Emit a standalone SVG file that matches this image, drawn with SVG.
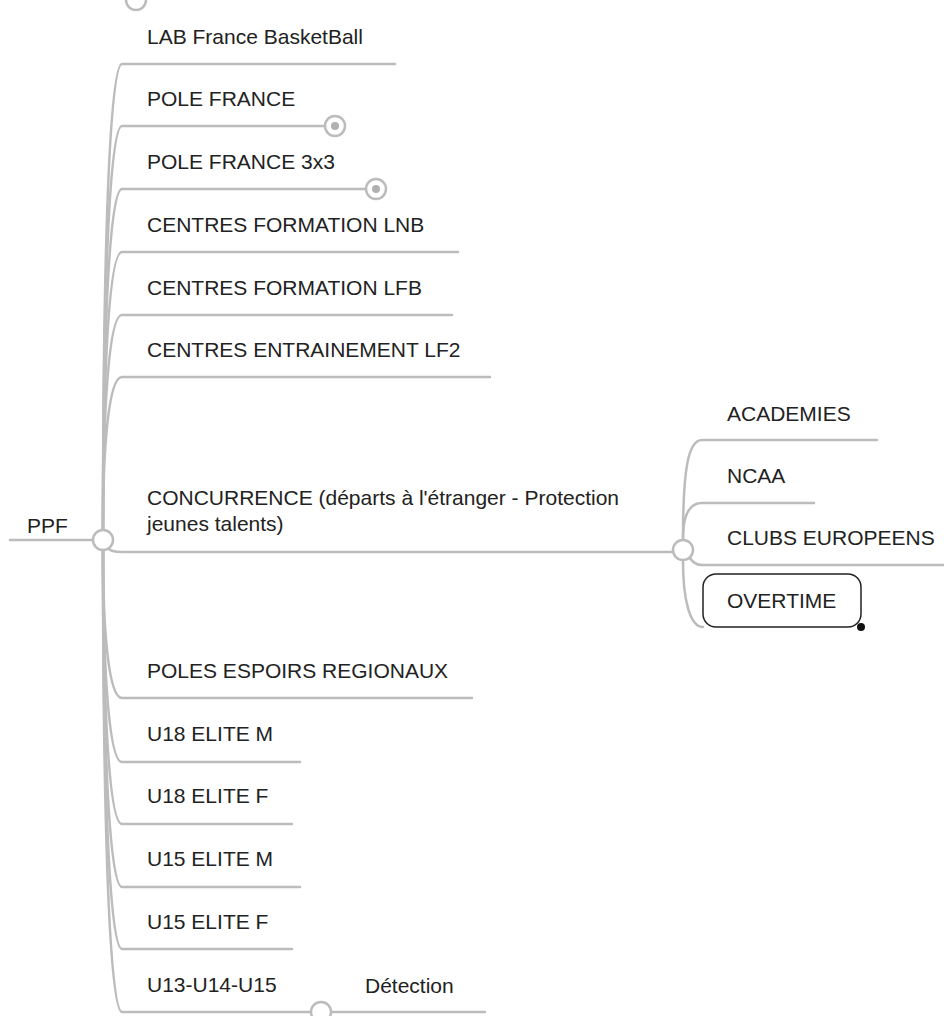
<svg xmlns="http://www.w3.org/2000/svg" width="944" height="1016" viewBox="0 0 944 1016">
<style>
.c{fill:none;stroke:#bcbcbc;stroke-width:2.5;stroke-linecap:round}
.n{fill:#fff;stroke:#bcbcbc;stroke-width:2.5}
.d{fill:#b0b0b0}
.t{font-family:"Liberation Sans",Arial,sans-serif;font-size:21px;fill:#222}
</style>
<rect width="944" height="1016" fill="#fff"/>
<g id="connectors">
<path class="c" d="M10,540 L92,540"/>
<path class="c" d="M103,529 C103,296 108,64 122,64 L395,64"/>
<path class="c" d="M103,529 C103,327 108,126 122,126 L325,126"/>
<path class="c" d="M103,529 C103,359 108,189 122,189 L366,189"/>
<path class="c" d="M103,529 C103,390 108,252 122,252 L458,252"/>
<path class="c" d="M103,529 C103,422 108,315 122,315 L452,315"/>
<path class="c" d="M103,529 C103,453 108,377 122,377 L490,377"/>
<path class="c" d="M108,548 C110,551 114,552 122,552 L672,552"/>
<path class="c" d="M103,551 C103,625 108,698 122,698 L472,698"/>
<path class="c" d="M103,551 C103,656 108,762 122,762 L300,762"/>
<path class="c" d="M103,551 C103,688 108,824 122,824 L292,824"/>
<path class="c" d="M103,551 C103,719 108,887 122,887 L300,887"/>
<path class="c" d="M103,551 C103,750 108,949 122,949 L292,949"/>
<path class="c" d="M103,551 C103,782 108,1012 122,1012 L485,1012"/>
<path class="c" d="M683,539 C683,470 688,440 702,440 L877,440"/>
<path class="c" d="M683,539 C683,515 690,503 702,503 L814,503"/>
<path class="c" d="M690,558 C693,563 696,565 702,565 L944,565"/>
<path class="c" d="M683,561 C683,600 690,627 703,627"/>
</g>
<g id="node-top"><circle class="n" cx="136" cy="0" r="10"/></g>
<g id="node-ppf"><text class="t" x="27" y="533">PPF</text><circle class="n" cx="103" cy="540" r="10"/></g>
<g id="node-lab"><text class="t" x="147" y="44">LAB France BasketBall</text></g>
<g id="node-pole-france"><text class="t" x="147" y="106">POLE FRANCE</text><circle class="n" cx="335" cy="126" r="10"/><circle class="d" cx="335" cy="126" r="4"/></g>
<g id="node-pole-france-3x3"><text class="t" x="147" y="169">POLE FRANCE 3x3</text><circle class="n" cx="376" cy="189" r="10"/><circle class="d" cx="376" cy="189" r="4"/></g>
<g id="node-cf-lnb"><text class="t" x="147" y="232">CENTRES FORMATION LNB</text></g>
<g id="node-cf-lfb"><text class="t" x="147" y="295">CENTRES FORMATION LFB</text></g>
<g id="node-ce-lf2"><text class="t" x="147" y="357">CENTRES ENTRAINEMENT LF2</text></g>
<g id="node-concurrence"><text class="t" x="147" y="505">CONCURRENCE (départs à l'étranger - Protection</text><text class="t" x="147" y="531">jeunes talents)</text><circle class="n" cx="683" cy="550" r="10"/></g>
<g id="node-academies"><text class="t" x="727" y="421">ACADEMIES</text></g>
<g id="node-ncaa"><text class="t" x="727" y="483">NCAA</text></g>
<g id="node-clubs"><text class="t" x="727" y="545">CLUBS EUROPEENS</text></g>
<g id="node-overtime"><rect x="703" y="574" width="158" height="53" rx="13" fill="#fff" stroke="#222" stroke-width="1.5"/><text class="t" x="727" y="608">OVERTIME</text><circle cx="861" cy="627" r="4" fill="#111"/></g>
<g id="node-poles-espoirs"><text class="t" x="147" y="678">POLES ESPOIRS REGIONAUX</text></g>
<g id="node-u18m"><text class="t" x="147" y="741">U18 ELITE M</text></g>
<g id="node-u18f"><text class="t" x="147" y="803">U18 ELITE F</text></g>
<g id="node-u15m"><text class="t" x="147" y="866">U15 ELITE M</text></g>
<g id="node-u15f"><text class="t" x="147" y="929">U15 ELITE F</text></g>
<g id="node-u13"><text class="t" x="147" y="992">U13-U14-U15</text><circle class="n" cx="321" cy="1012" r="10"/></g>
<g id="node-detection"><text class="t" x="365" y="993">Détection</text></g>
</svg>
